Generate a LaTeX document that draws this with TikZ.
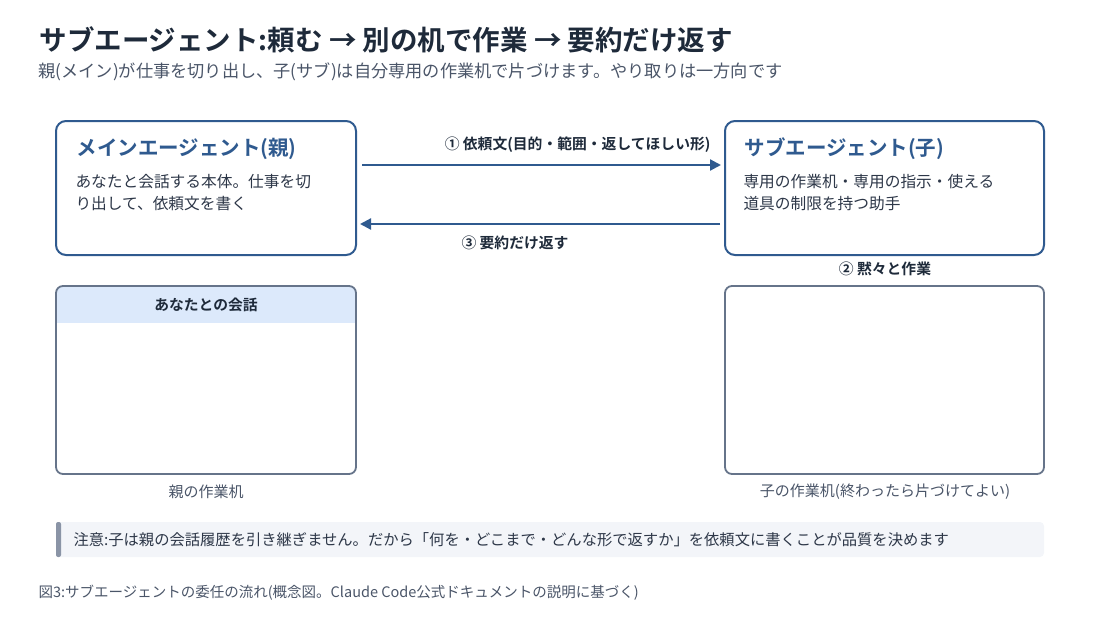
\documentclass[tikz,border=0pt]{standalone}
\usepackage{fontspec}
\setmainfont{Noto Sans CJK JP}
\newfontfamily\jpb{Noto Sans CJK JP Bold}
\usetikzlibrary{arrows.meta}
\definecolor{navy}{HTML}{1E2A3A}
\definecolor{txt}{HTML}{2D3748}
\definecolor{gry}{HTML}{4A5568}
\definecolor{blu}{HTML}{2F5A8F}
\definecolor{hdr}{HTML}{DCE9FB}
\definecolor{desk}{HTML}{66748A}
\definecolor{notebg}{HTML}{F3F5F9}
\definecolor{noteb}{HTML}{8A94A6}
\begin{document}
\begin{tikzpicture}[x=1pt,y=-1pt,
  agent/.style={draw=blu,line width=2pt,rounded corners=10pt,fill=white},
  deskbox/.style={draw=desk,line width=1.8pt,rounded corners=7pt},
  atitle/.style={anchor=west,text=blu,font=\jpb\fontsize{20.5}{24}\selectfont},
  abody/.style={anchor=west,text=txt,font=\fontsize{15.7}{18}\selectfont},
  lbl/.style={text=navy,font=\jpb\fontsize{14.8}{17}\selectfont},
  captxt/.style={text=gry,font=\fontsize{15}{17}\selectfont},
  arr/.style={draw=blu,line width=2.2pt,-{Triangle[length=11pt,width=11pt]}}]
\useasboundingbox (0,0) rectangle (1100,618);
\node[anchor=west,text=navy,font=\jpb\fontsize{27.5}{30}\selectfont] (t) at (36,40) {サブエージェント:頼む → 別の机で作業 → 要約だけ返す};
\node[anchor=west,text=gry,font=\fontsize{17.2}{20}\selectfont] (st) at (35,72) {親(メイン)が仕事を切り出し、子(サブ)は自分専用の作業机で片づけます。やり取りは一方向です};
\draw[agent] (56,121) rectangle (356,255);
\node[atitle] (mt) at (73,149) {メインエージェント(親)};
\node[abody] (mb1) at (72,182) {あなたと会話する本体。仕事を切};
\node[abody] (mb2) at (72,204) {り出して、依頼文を書く};
\draw[agent] (725,121) rectangle (1044,255);
\node[atitle] (st1) at (741,149) {サブエージェント(子)};
\node[abody] (sb1) at (740,182) {専用の作業机・専用の指示・使える};
\node[abody] (sb2) at (740,204) {道具の制限を持つ助手};
\coordinate (a1s) at (362,165); \coordinate (a1e) at (721,165);
\coordinate (a2s) at (720,224); \coordinate (a2e) at (360,224);
\draw[arr] (a1s) -- (a1e);
\draw[arr] (a2s) -- (a2e);
\node[lbl,anchor=east] (l1) at (714,145) {① 依頼文(目的・範囲・返してほしい形)};
\node[lbl] (l3) at (515,243) {③ 要約だけ返す};
\node[lbl] (l2) at (885,269) {② 黙々と作業};
\begin{scope}
\clip[rounded corners=7pt] (56,286) rectangle (356,474);
\fill[hdr] (56,286) rectangle (356,323);
\end{scope}
\draw[deskbox] (56,286) rectangle (356,474);
\node[lbl] (h) at (206,305) {あなたとの会話};
\draw[deskbox] (725,286) rectangle (1044,474);
\node[captxt] (c1) at (206,492) {親の作業机};
\node[captxt] (c2) at (885,492) {子の作業机(終わったら片づけてよい)};
\fill[notebg,rounded corners=4pt] (56,522) rectangle (1044,557);
\fill[noteb,rounded corners=2pt] (56,522) rectangle (61,557);
\node[anchor=west,text=txt,font=\fontsize{15.3}{17}\selectfont] (n) at (70,539.5) {注意:子は親の会話履歴を引き継ぎません。だから「何を・どこまで・どんな形で返すか」を依頼文に書くことが品質を決めます};
\node[anchor=west,text=gry,font=\fontsize{14.5}{16}\selectfont] (f) at (35,593) {図3:サブエージェントの委任の流れ(概念図。Claude Code公式ドキュメントの説明に基づく)};
\end{tikzpicture}
\end{document}
